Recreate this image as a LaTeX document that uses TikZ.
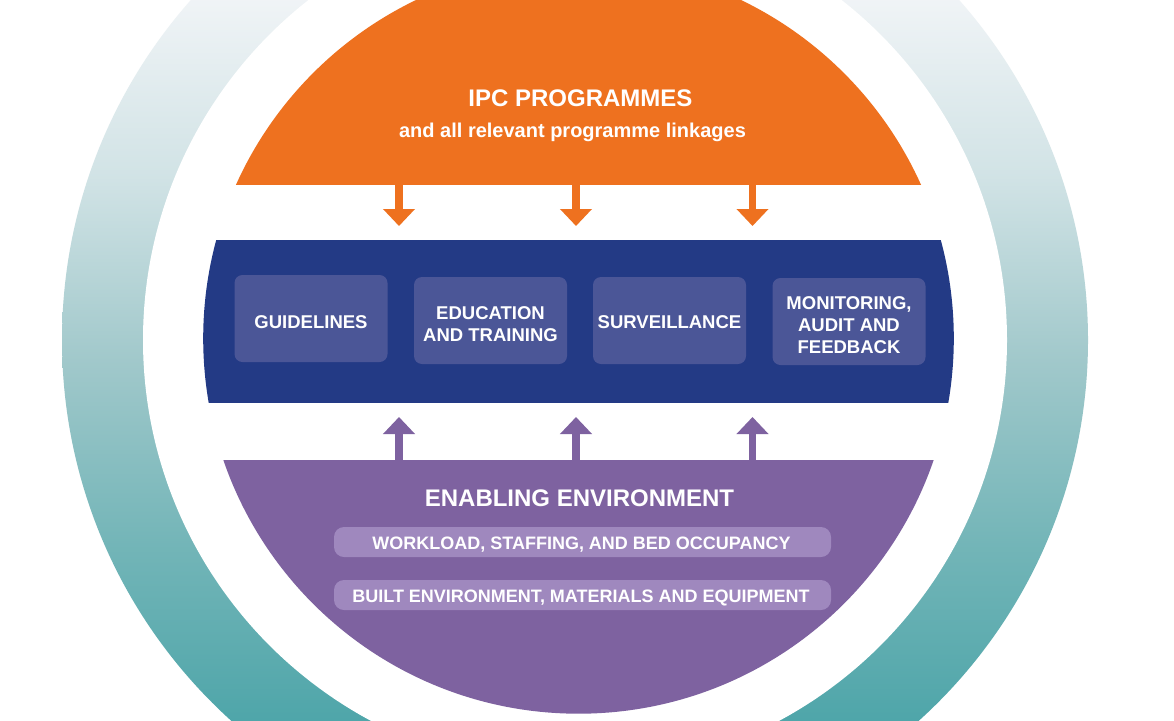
\documentclass[tikz,border=0pt]{standalone}
\usepackage{fontspec}
\setmainfont{Liberation Sans}
\usetikzlibrary{arrows.meta}
\definecolor{ipcorange}{HTML}{EE711F}
\definecolor{coreblue}{HTML}{233A85}
\definecolor{boxblue}{HTML}{4B5697}
\definecolor{envpurple}{HTML}{7E62A0}
\definecolor{boxpurple}{HTML}{9F88BE}
\pgfdeclareverticalshading{ringshade}{100bp}{%
  rgb(0bp)=(0.27,0.62,0.64);
  rgb(25bp)=(0.27,0.62,0.64);
  rgb(31.5bp)=(0.31,0.65,0.665);
  rgb(40bp)=(0.45,0.71,0.72);
  rgb(49bp)=(0.63,0.785,0.795);
  rgb(58bp)=(0.82,0.89,0.90);
  rgb(66.6bp)=(0.94,0.955,0.965);
  rgb(75bp)=(0.965,0.975,0.98);
  rgb(100bp)=(0.965,0.975,0.98)}
\begin{document}
\begin{tikzpicture}[x=1pt,y=-1pt,
  corebox/.style={fill=boxblue, rounded corners=8pt, minimum width=153pt, minimum height=87pt, inner sep=0pt},
  coretext/.style={text=white, font=\bfseries\fontsize{18.5}{22}\selectfont, align=center, inner sep=0pt},
  envbar/.style={fill=boxpurple, rounded corners=10pt, minimum width=497pt, minimum height=30pt, inner sep=0pt},
  envtext/.style={text=white, font=\bfseries\fontsize{18}{22}\selectfont, anchor=base, inner sep=0pt},
  downarrow/.style={draw=ipcorange, line width=7.5pt, -{Triangle[width=31pt 0, length=17pt 0]}},
  uparrow/.style={draw=envpurple, line width=7.5pt, -{Triangle[width=31pt 0, length=17pt 0]}},
]
\useasboundingbox (0,0) rectangle (1174,720);
\fill[white] (0,0) rectangle (1174,720);
% outer ring
\shade[shading=ringshade] (575,340) circle[radius=513];
\fill[white] (575,340) circle[radius=432];
% coloured disc segments
\begin{scope}
  \clip (578.5,338.4) circle[radius=375.3];
  \fill[ipcorange] (150,-50) rectangle (1010,185);
  \fill[coreblue] (150,240) rectangle (1010,403);
  \fill[envpurple] (150,460) rectangle (1010,760);
\end{scope}
% IPC texts
\node[text=white, font=\bfseries\fontsize{24}{28}\selectfont, anchor=base, inner sep=0pt] (ipctitle) at (580.5,106) {IPC PROGRAMMES};
\node[text=white, font=\bfseries\fontsize{20}{24}\selectfont, anchor=base, inner sep=0pt] (ipcsub) at (572.5,137) {and all relevant programme linkages};
% core components
\node[corebox] (guide) at (311,318.5) {};
\node[corebox] (edu) at (490.5,320.5) {};
\node[corebox] (surv) at (669.5,320.5) {};
\node[corebox] (monit) at (849,321.5) {};
\node[coretext] (guidet) at (311,322) {GUIDELINES};
\node[coretext] (edut) at (490.5,324) {EDUCATION\\AND TRAINING};
\node[coretext] (survt) at (669.5,322.5) {SURVEILLANCE};
\node[coretext] (monitt) at (849,325) {MONITORING,\\AUDIT AND\\FEEDBACK};
% enabling environment
\node[text=white, font=\bfseries\fontsize{24}{28}\selectfont, anchor=base, inner sep=0pt] (envtitle) at (579.5,506) {ENABLING ENVIRONMENT};
\node[envbar] (bar1) at (582.5,542) {};
\node[envtext] (bar1t) at (581.5,549) {WORKLOAD, STAFFING, AND BED OCCUPANCY};
\node[envbar] (bar2) at (582.5,595) {};
\node[envtext] (bar2t) at (581,602) {BUILT ENVIRONMENT, MATERIALS AND EQUIPMENT};
% arrow end points
\coordinate (ipcA) at (399,185);   \coordinate (coreA) at (399,226);
\coordinate (ipcB) at (576,185);   \coordinate (coreB) at (576,226);
\coordinate (ipcC) at (752.5,185); \coordinate (coreC) at (752.5,226);
\coordinate (envA) at (399,460);   \coordinate (coreD) at (399,417);
\coordinate (envB) at (576,460);   \coordinate (coreE) at (576,417);
\coordinate (envC) at (752.5,460); \coordinate (coreF) at (752.5,417);
\draw[downarrow] (ipcA) -- (coreA);
\draw[downarrow] (ipcB) -- (coreB);
\draw[downarrow] (ipcC) -- (coreC);
\draw[uparrow] (envA) -- (coreD);
\draw[uparrow] (envB) -- (coreE);
\draw[uparrow] (envC) -- (coreF);
\end{tikzpicture}
\end{document}
